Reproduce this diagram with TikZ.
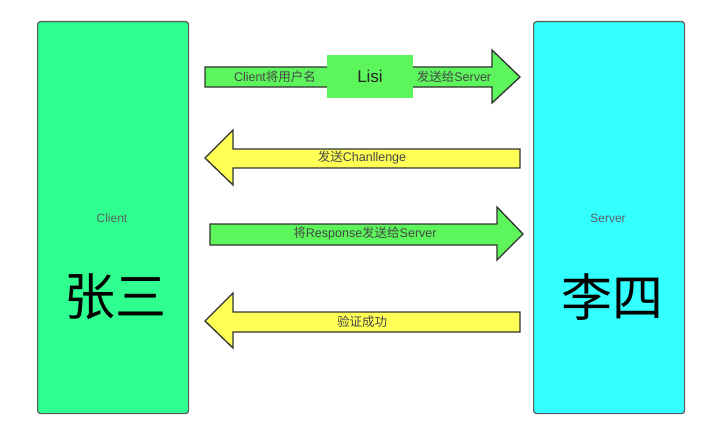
\documentclass[tikz,border=0pt]{standalone}
\usepackage{fontspec}
\setmainfont{Liberation Sans}
\newfontfamily\cjk{Noto Sans CJK SC}
\begin{document}
\begin{tikzpicture}[x=1pt,y=-1pt,
  party/.style={draw=black!65,line width=1.2pt,rounded corners=3pt},
  blockarrow/.style={draw=black!80,line width=1.3pt,line join=miter},
  greenfill/.style={fill=arrowgreen},
  yellowfill/.style={fill=arrowyellow},
  lbl/.style={font=\fontsize{12.5}{13}\selectfont,text=black!72,inner sep=0pt},
  boxlbl/.style={font=\fontsize{12}{13}\selectfont,text=black!62,inner sep=0pt},
  bigname/.style={font=\cjk\fontsize{51}{53}\selectfont,inner sep=0pt}]
\definecolor{clientgreen}{HTML}{2EFF8E}
\definecolor{servercyan}{HTML}{33FFFF}
\definecolor{arrowgreen}{HTML}{5CF55C}
\definecolor{arrowyellow}{HTML}{FFFF55}
\useasboundingbox[fill=white] (0,0) rectangle (720,428);
% parties
\node[party,fill=clientgreen,minimum width=151pt,minimum height=392pt,anchor=north west] (client) at (37,21) {};
\node[party,fill=servercyan,minimum width=151pt,minimum height=392pt,anchor=north west] (server) at (533,21) {};
\node[boxlbl] (clientlbl) at (112,218) {Client};
\node[bigname] (zs) at (115,297) {张三};
\node[boxlbl] (serverlbl) at (608,218) {Server};
\node[bigname] (ls) at (612,297) {李四};
% arrow 1
\draw[blockarrow,greenfill] (205,67) -- (492,67) -- (492,50) -- (520,77) -- (492,103) -- (492,87) -- (205,87) -- cycle;
\node[fill=arrowgreen,minimum width=86pt,minimum height=43pt,inner sep=0pt,font=\fontsize{17}{18}\selectfont,text=black!85] (lisi) at (370,76.5) {Lisi};
\node[lbl] (a1l) at (275,77) {Client{\cjk 将用户名}};
\node[lbl] (a1r) at (454,77) {{\cjk 发送给}Server};
% arrow 2
\draw[blockarrow,yellowfill] (520,149) -- (233,149) -- (233,130) -- (205,158) -- (233,185) -- (233,168) -- (520,168) -- cycle;
\node[lbl] (a2) at (362,158) {{\cjk 发送}Chanllenge};
% arrow 3
\draw[blockarrow,greenfill] (210,224) -- (497,224) -- (497,207) -- (523,234) -- (497,260) -- (497,245) -- (210,245) -- cycle;
\node[lbl] (a3) at (365,234) {{\cjk 将}Response{\cjk 发送给}Server};
% arrow 4
\draw[blockarrow,yellowfill] (520,312) -- (233,312) -- (233,293) -- (205,321) -- (233,348) -- (233,332) -- (520,332) -- cycle;
\node[lbl] (a4) at (362,322) {\cjk 验证成功};
\end{tikzpicture}
\end{document}
